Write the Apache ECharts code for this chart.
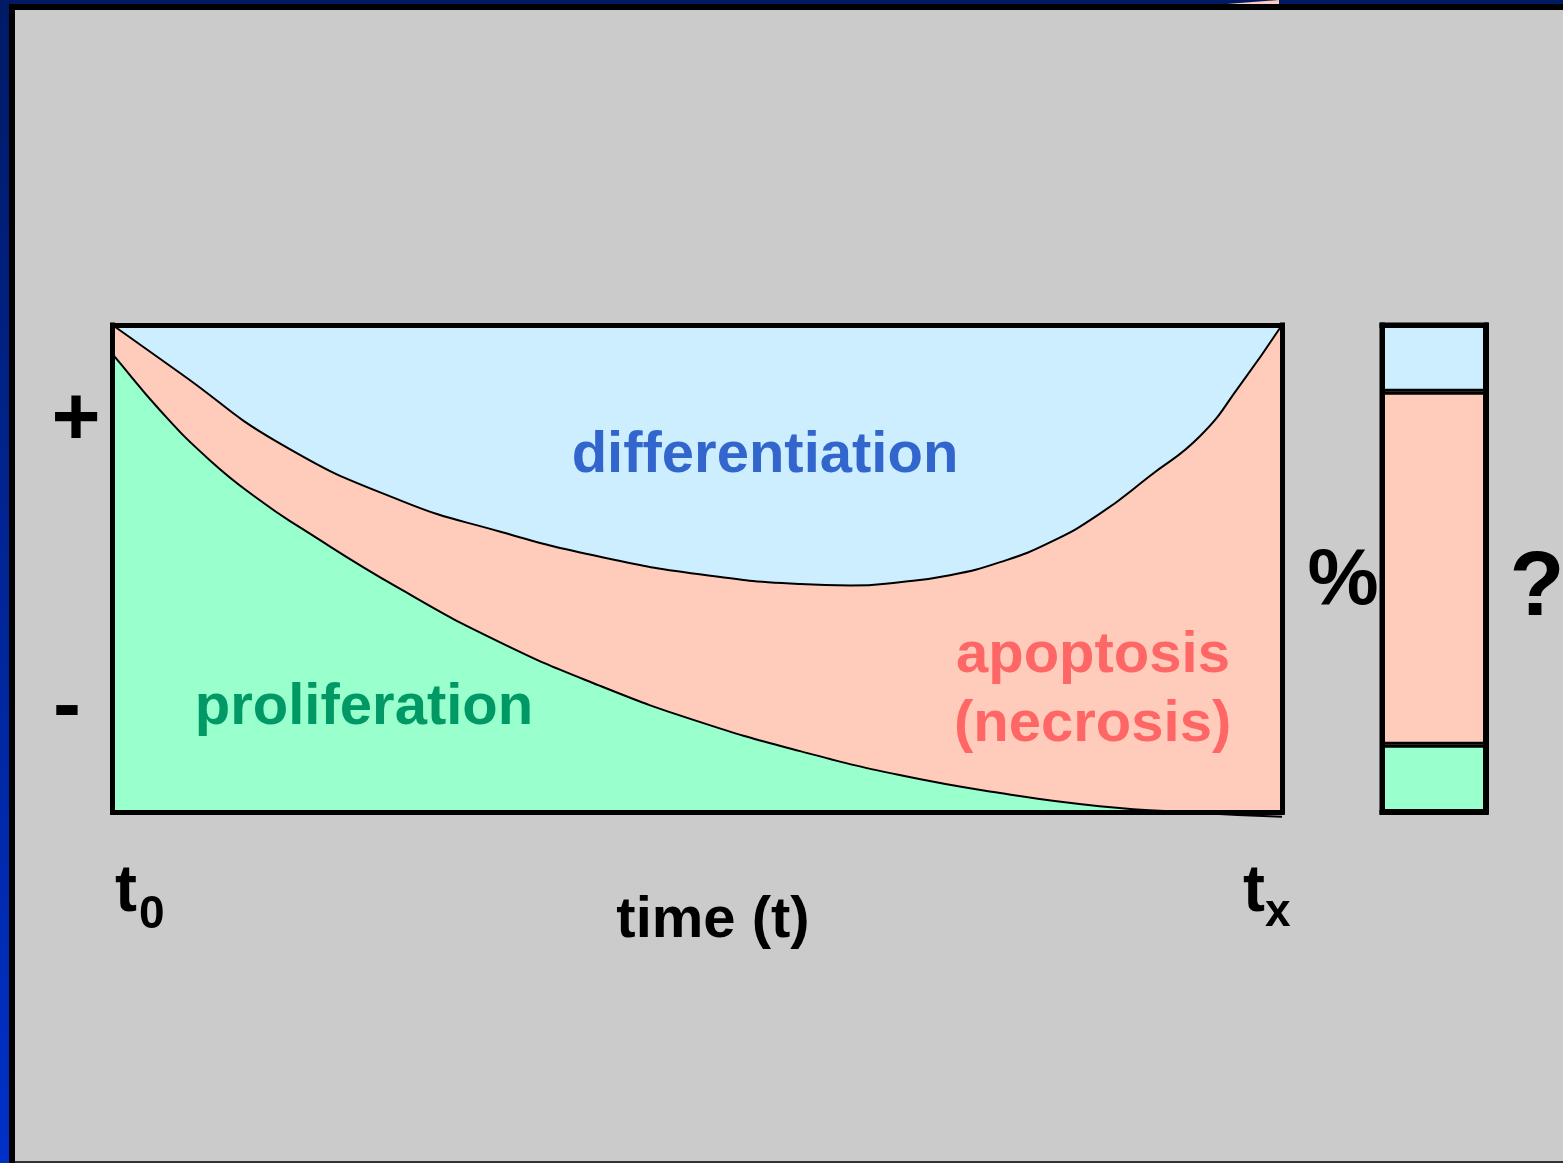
<!DOCTYPE html>
<html>
<head>
<meta charset="utf-8">
<script src="https://cdn.jsdelivr.net/npm/echarts@6/dist/echarts.min.js"></script>
<style>
  html, body { margin: 0; padding: 0; width: 1563px; height: 1163px; overflow: hidden; background: #cbcbcb; }
  #leftband { position: absolute; left: 0; top: 0; width: 9px; height: 1163px; background: linear-gradient(#001a66, #0030c8); }
  #leftblack { position: absolute; left: 9px; top: 4px; width: 6px; height: 1163px; background: #000; }
  #topband { position: absolute; left: 0; top: 0; width: 1563px; height: 4px; background: #001a66; }
  #topblack { position: absolute; left: 9px; top: 4px; width: 1554px; height: 6px; background: #000; }
  #toppink { position: absolute; left: 1227px; top: 0; width: 52px; height: 4px; background: #ffccbb; clip-path: polygon(0 100%, 100% 0, 100% 100%); }
  #bottomline { position: absolute; left: 15px; top: 1161px; width: 1548px; height: 2px; background: #333; }
  #chart { position: absolute; left: 0; top: 0; width: 1563px; height: 1163px; }
</style>
</head>
<body>
<div id="leftband"></div>
<div id="topband"></div>
<div id="toppink"></div>
<div id="leftblack"></div>
<div id="topblack"></div>
<div id="bottomline"></div>
<div id="chart"></div>
<script>
// Time axis runs 0 (t0) .. 100 (tx); vertical axis is share in percent.
const upperX = [0, 5.8, 14.3, 24.6, 33.1, 41.7, 50.2, 58.8, 63.1, 67.3, 71.6, 75.9, 80.2, 84.4, 88.7, 93.0, 96.4, 100];
const upperY = [100, 90.1, 75.7, 64.0, 57.6, 52.4, 48.8, 46.8, 46.5, 47.2, 48.6, 51.3, 55.4, 61.2, 69.0, 77.2, 87.6, 100];
const lowerX = [-1.24, 0, 4.06, 8.34, 12.6, 16.0, 24.6, 33.1, 41.7, 50.2, 58.8, 67.3, 75.9, 84.4, 93.0, 100];
const lowerY = [97.4, 94.0, 82.5, 72.2, 64.0, 58.5, 45.8, 34.9, 25.9, 18.5, 12.5, 7.6, 3.9, 1.2, -0.2, -1.0];
// Final-state composition bar (percent)
const barCategory = ['tx'];
const barProliferation = [13.8];
const barApoptosis = [72.5];
const barDifferentiation = [13.7];

const colBlue = '#cceeff', colPink = '#ffccbb', colGreen = '#99ffcc';
const FONT = '"Liberation Sans", Arial, sans-serif';
const SMOOTH = 0.5;

const upperData = upperX.map((x, i) => [x, upperY[i]]);
const lowerData = lowerX.map((x, i) => [x, lowerY[i]]);

const frameLine = { show: true, onZero: false, lineStyle: { color: '#000', width: 5, cap: 'square' } };
function frameAxis(extra) {
  return Object.assign({ axisLine: frameLine, axisTick: { show: false }, axisLabel: { show: false }, splitLine: { show: false }, z: 5 }, extra);
}
// text placed by its baseline (zrender 'top' alignment, offset by ~0.79 em)
function txt(text, x, baseline, size, fill, align) {
  return { type: 'text', z: 10, style: { text: text, x: x, y: baseline - 0.79 * size, font: 'bold ' + size + 'px ' + FONT,
    fill: fill, align: align || 'left', verticalAlign: 'top' } };
}

const chart = echarts.init(document.getElementById('chart'), null, { renderer: 'canvas' });
chart.setOption({
  backgroundColor: 'transparent',
  animation: false,
  grid: [
    { left: 112.5, top: 325, right: 1563 - 1282, bottom: 1163 - 812, show: true, backgroundColor: colBlue, borderWidth: 0 },
    { left: 1382, top: 325, right: 1563 - 1486, bottom: 1163 - 812, show: true, backgroundColor: 'transparent', borderColor: '#000', borderWidth: 5 }
  ],
  xAxis: [
    frameAxis({ type: 'value', min: 0, max: 100, gridIndex: 0, position: 'bottom' }),
    frameAxis({ type: 'value', min: 0, max: 100, gridIndex: 0, position: 'top' }),
    frameAxis({ type: 'category', data: barCategory, gridIndex: 1, position: 'bottom' }),
    frameAxis({ type: 'category', data: barCategory, gridIndex: 1, position: 'top' })
  ],
  yAxis: [
    frameAxis({ type: 'value', min: 0, max: 100, gridIndex: 0, position: 'left' }),
    frameAxis({ type: 'value', min: 0, max: 100, gridIndex: 0, position: 'right' }),
    frameAxis({ type: 'value', min: 0, max: 100, gridIndex: 1, position: 'left' }),
    frameAxis({ type: 'value', min: 0, max: 100, gridIndex: 1, position: 'right' })
  ],
  series: [
    { name: 'apoptosis', type: 'line', xAxisIndex: 0, yAxisIndex: 0, data: upperData, smooth: SMOOTH,
      showSymbol: false, clip: true, lineStyle: { width: 0 }, areaStyle: { color: colPink, opacity: 1, origin: 'start' }, z: 2 },
    { name: 'proliferation', type: 'line', xAxisIndex: 0, yAxisIndex: 0, data: lowerData, smooth: SMOOTH,
      showSymbol: false, clip: true, lineStyle: { width: 0 }, areaStyle: { color: colGreen, opacity: 1, origin: 'start' }, z: 3 },
    { name: 'upperLine', type: 'line', xAxisIndex: 0, yAxisIndex: 0, data: upperData, smooth: SMOOTH,
      showSymbol: false, clip: false, lineStyle: { width: 2, color: '#000' }, z: 4 },
    { name: 'lowerLine', type: 'line', xAxisIndex: 0, yAxisIndex: 0, data: lowerData, smooth: SMOOTH,
      showSymbol: false, clip: false, lineStyle: { width: 2, color: '#000' }, z: 4 },
    { name: 'barProlif', type: 'bar', xAxisIndex: 2, yAxisIndex: 2, stack: 'end', data: barProliferation, barWidth: '100%',
      itemStyle: { color: colGreen, borderColor: '#000', borderWidth: 3 } },
    { name: 'barApop', type: 'bar', xAxisIndex: 2, yAxisIndex: 2, stack: 'end', data: barApoptosis, barWidth: '100%',
      itemStyle: { color: colPink, borderColor: '#000', borderWidth: 3 } },
    { name: 'barDiff', type: 'bar', xAxisIndex: 2, yAxisIndex: 2, stack: 'end', data: barDifferentiation, barWidth: '100%',
      itemStyle: { color: colBlue, borderColor: '#000', borderWidth: 3 } }
  ],
  graphic: [
    txt('differentiation', 765, 473, 58, '#3366cc', 'center'),
    txt('proliferation', 364, 725, 58, '#009966', 'center'),
    txt('apoptosis', 956, 673, 58, '#ff6666'),
    txt('(necrosis)', 954, 742, 58, '#ff6666'),
    { type: 'text', z: 10, style: { text: '+', x: 76, y: 422, font: 'bold 84px ' + FONT, fill: '#000', align: 'center', verticalAlign: 'middle' } },
    { type: 'text', z: 10, style: { text: '-', x: 67, y: 709, font: 'bold 84px ' + FONT, fill: '#000', align: 'center', verticalAlign: 'middle' } },
    { type: 'text', z: 10, style: { text: '%', x: 1343, y: 582, font: 'bold 80px ' + FONT, fill: '#000', align: 'center', verticalAlign: 'middle' } },
    { type: 'text', z: 10, style: { text: '?', x: 1537, y: 590, font: 'bold 90px ' + FONT, fill: '#000', align: 'center', verticalAlign: 'middle' } },
    txt('time (t)', 713, 938, 58, '#000', 'center'),
    txt('t', 115, 912, 66, '#000'),
    txt('0', 139, 929, 46, '#000'),
    txt('t', 1243, 912, 66, '#000'),
    txt('x', 1265, 927, 46, '#000')
  ]
});
</script>
</body>
</html>
